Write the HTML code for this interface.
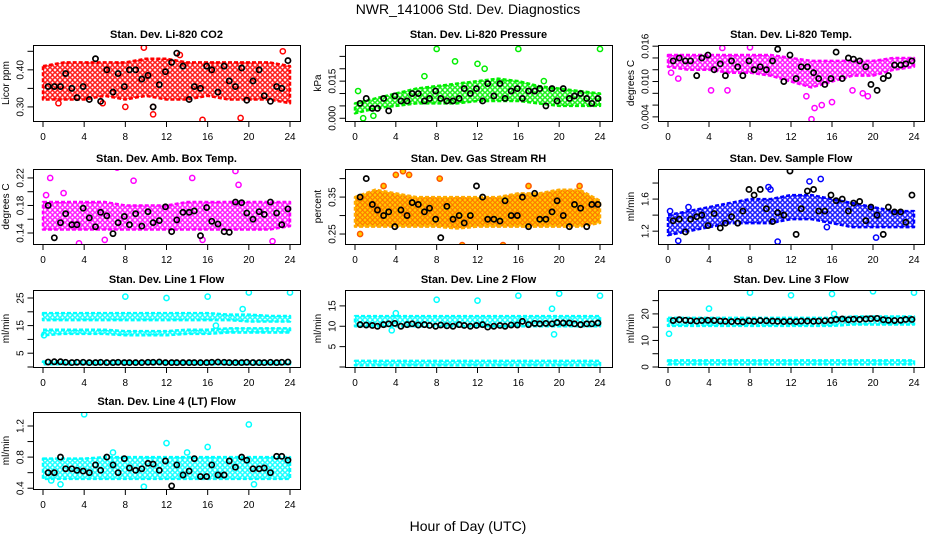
<!DOCTYPE html>
<html><head><meta charset="utf-8">
<style>
html,body{margin:0;padding:0;background:#fff;}
svg{display:block;font-family:"Liberation Sans",sans-serif;}
</style></head>
<body>
<svg id="chart" width="936" height="540" viewBox="0 0 936 540" xmlns="http://www.w3.org/2000/svg">
<defs id="defs"></defs>
<text x="468" y="14" font-size="14" text-anchor="middle">NWR_141006  Std. Dev. Diagnostics</text>
<text x="468" y="531" font-size="14" text-anchor="middle">Hour of Day (UTC)</text>
</svg>
<script>
// ---- data ----
const bandHours = [0,2,4,6,8,10,12,14,16,18,20,22,24];
const blkX = [0.5,1.1,1.7,2.2,2.8,3.3,3.9,4.5,5.1,5.6,6.2,6.8,7.3,7.9,8.4,9.0,9.6,10.2,10.7,11.3,11.9,12.5,13.0,13.6,14.2,14.7,15.3,15.9,16.4,17.0,17.6,18.1,18.7,19.3,19.8,20.4,21.0,21.5,22.1,22.7,23.2,23.8];

const co2Lo = [0.32,0.32,0.32,0.33,0.32,0.33,0.32,0.32,0.33,0.32,0.32,0.32,0.31];
const co2Hi = [0.41,0.42,0.42,0.42,0.42,0.43,0.43,0.42,0.42,0.42,0.42,0.42,0.41];
const co2OutX = [9.8,10.7,15.5,19.2,23.3,10.7,1.5,8,13.3,5.8];
const co2OutY = [0.46,0.28,0.265,0.27,0.45,0.30,0.31,0.30,0.44,0.31];
const co2Blk = [0.355,0.355,0.355,0.39,0.35,0.325,0.355,0.32,0.43,0.315,0.40,0.34,0.39,0.355,0.40,0.40,0.375,0.385,0.30,0.36,0.395,0.42,0.445,0.41,0.32,0.355,0.35,0.41,0.40,0.34,0.41,0.37,0.355,0.405,0.318,0.37,0.40,0.33,0.315,0.355,0.35,0.425];

const presLo = [0.002,0.004,0.005,0.006,0.006,0.006,0.007,0.007,0.007,0.006,0.005,0.005,0.005];
const presHi = [0.006,0.008,0.010,0.012,0.013,0.014,0.015,0.016,0.015,0.013,0.012,0.011,0.010];
const presOutX = [8,16,24,9.8,12,12.7,0.8,1.8,6.8,18.5,0.3];
const presOutY = [0.028,0.028,0.028,0.023,0.022,0.020,0.0,0.001,0.017,0.015,0.011];
const presBlk = [0.006,0.008,0.004,0.004,0.008,0.003,0.009,0.007,0.007,0.010,0.010,0.007,0.008,0.011,0.008,0.007,0.007,0.008,0.012,0.010,0.012,0.007,0.014,0.009,0.014,0.008,0.011,0.012,0.008,0.011,0.011,0.012,0.005,0.012,0.007,0.012,0.008,0.009,0.010,0.008,0.006,0.008];

const tempLo = [0.0125,0.012,0.012,0.0115,0.0115,0.011,0.010,0.009,0.010,0.011,0.011,0.012,0.0125];
const tempHi = [0.0145,0.0145,0.0145,0.0145,0.0145,0.0145,0.014,0.0135,0.0135,0.0135,0.0135,0.014,0.014];
const tempOutX = [0.3,1,4.2,5.8,8,5.3,13.5,14,14.3,15,16,19,19.5,18];
const tempOutY = [0.0115,0.0105,0.0085,0.0085,0.0158,0.0157,0.0075,0.0036,0.0055,0.006,0.0065,0.008,0.0075,0.0085];
const tempBlk = [0.0135,0.014,0.0135,0.0135,0.011,0.014,0.0145,0.012,0.013,0.011,0.0135,0.0125,0.011,0.0135,0.012,0.0125,0.012,0.0135,0.0155,0.010,0.0145,0.0105,0.0125,0.0125,0.0115,0.0105,0.0095,0.0105,0.015,0.0105,0.014,0.0138,0.0135,0.0125,0.0095,0.0085,0.0105,0.011,0.0128,0.0128,0.013,0.0135];

const ambLo = [0.145,0.145,0.145,0.145,0.145,0.145,0.145,0.145,0.145,0.145,0.145,0.145,0.15];
const ambHi = [0.185,0.185,0.185,0.185,0.18,0.18,0.18,0.185,0.185,0.185,0.185,0.185,0.185];
const ambOutX = [0.7,7.2,8.8,14.5,18.7,19,0.3,3.5,6,22.3,15.5,2];
const ambOutY = [0.22,0.235,0.216,0.22,0.23,0.21,0.195,0.125,0.13,0.128,0.13,0.198];
const ambBlk = [0.18,0.133,0.155,0.168,0.152,0.152,0.176,0.162,0.149,0.17,0.165,0.139,0.155,0.164,0.152,0.168,0.15,0.171,0.155,0.158,0.178,0.142,0.159,0.17,0.17,0.172,0.136,0.177,0.157,0.153,0.142,0.141,0.185,0.184,0.169,0.16,0.171,0.167,0.185,0.169,0.152,0.175];

const rhLo = [0.27,0.27,0.27,0.27,0.27,0.265,0.27,0.27,0.27,0.27,0.27,0.27,0.28];
const rhHi = [0.35,0.37,0.36,0.35,0.35,0.35,0.35,0.35,0.36,0.36,0.37,0.37,0.34];
const rhOutX = [4,4.7,5.3,8.3,10.5,14.5,0.5,17,22,2.8];
const rhOutY = [0.41,0.42,0.41,0.40,0.22,0.22,0.25,0.38,0.38,0.38];
const rhBlk = [0.35,0.40,0.33,0.315,0.30,0.31,0.27,0.315,0.30,0.335,0.33,0.31,0.32,0.29,0.24,0.325,0.29,0.30,0.28,0.30,0.38,0.35,0.29,0.29,0.285,0.34,0.30,0.30,0.35,0.27,0.36,0.29,0.29,0.31,0.34,0.30,0.27,0.33,0.32,0.27,0.33,0.33];

const flowLo = [1.15,1.2,1.25,1.3,1.3,1.3,1.35,1.35,1.3,1.25,1.25,1.25,1.25];
const flowHi = [1.4,1.45,1.5,1.55,1.6,1.6,1.65,1.65,1.6,1.55,1.5,1.45,1.45];
const flowOutX = [14.9,10,1,10.7,13.8,0.2,2,9.8,15.5,20.3];
const flowOutY = [1.85,1.72,1.08,1.07,1.82,1.45,1.5,1.75,1.25,1.12];
const flowBlk = [1.33,1.35,1.19,1.35,1.38,1.4,1.27,1.42,1.24,1.3,1.38,1.3,1.45,1.72,1.65,1.72,1.48,1.32,1.43,1.4,1.95,1.16,1.48,1.7,1.72,1.45,1.45,1.65,1.58,1.6,1.45,1.55,1.57,1.33,1.5,1.4,1.16,1.5,1.44,1.44,1.31,1.65];

const l1UpLo = [17,17,17,17,17,17,17,17,17,17,16.5,16.5,16.5];
const l1UpHi = [19.5,19.5,19.5,19.5,19.5,19.5,19.5,19.5,19.5,19,19,18.5,18.5];
const l1MidLo = [11.5,12,12,12,11.5,11.5,11.5,12,12,12.5,12.5,12.5,12.5];
const l1MidHi = [13.5,13.5,13.5,13.5,13,13,13,13.5,13.5,14,14,14,14];
const l1BotLo = [1,1,1,1,1,1,1,1,1,1,1,1,1];
const l1BotHi = [2,2,2,2,2,2,2,2,2,2,2,2,2];
const l1OutX = [8,12,16,20,24,19.4,0.1,16.8];
const l1OutY = [25.5,25,25.5,27,27,21,11.5,15];
const l1Blk = [1.8,1.9,1.9,1.7,1.6,1.7,1.7,1.6,1.6,1.7,1.6,1.6,1.7,1.6,1.6,1.6,1.6,1.7,1.7,1.8,1.6,1.6,1.6,1.6,1.6,1.6,1.6,1.6,1.7,1.8,1.7,1.6,1.6,1.6,1.7,1.6,1.6,1.6,1.7,1.6,1.7,1.8];

const l2UpLo = [10,10,10,10,10,10,10,10,10,10,10,10,10];
const l2UpHi = [12.5,12.5,12.5,12.5,12.5,12.5,12.5,12.5,12.5,12.5,12.5,12.5,12.5];
const l2BotLo = [0.4,0.4,0.4,0.4,0.4,0.4,0.4,0.4,0.4,0.4,0.4,0.4,0.4];
const l2BotHi = [1.5,1.5,1.5,1.5,1.5,1.5,1.5,1.5,1.5,1.5,1.5,1.5,1.5];
const l2OutX = [8,12,16,20,24,19.3,19.5,4,3.6];
const l2OutY = [16.5,16.3,17.5,18,17.5,14.3,8,13.2,9];
const l2Blk = [10.4,10.3,10.2,10.0,10.4,10.6,10.7,10.0,10.4,10.6,10.3,10.4,10.2,10.0,10.3,10.1,10.0,10.4,10.2,10.0,10.2,10.4,9.8,10.0,10.2,10.0,10.3,10.3,11.2,10.4,10.7,10.6,10.7,10.6,10.9,10.8,10.8,10.6,10.4,10.6,10.6,10.8];

const l3UpLo = [15.5,15.5,15.5,15.5,15.5,15.5,15.5,15.5,15.5,16,16,16,16];
const l3UpHi = [18.5,18.5,18.5,18.5,18.5,18.5,18.5,18.5,18.5,19,19,19,19];
const l3BotLo = [1,1,1,1,1,1,1,1,1,1,1,1,1];
const l3BotHi = [2.5,2.5,2.5,2.5,2.5,2.5,2.5,2.5,2.5,2.5,2.5,2.5,2.5];
const l3OutX = [8,12,16,20,24,4,0.1,16.2];
const l3OutY = [28,27,27.5,28.5,28,22,12.5,20];
const l3Blk = [17.5,17.8,17.6,17.4,17.3,17.5,17.6,17.5,17.3,17.2,17.1,17.2,17.0,17.4,17.2,17.5,17.4,17.3,17.2,17.1,17.2,17.1,17.3,17.3,17.2,17.3,17.4,17.6,17.9,18.1,17.8,18.0,17.9,18.1,18.2,18.3,17.8,17.6,17.5,17.6,17.9,17.9];

const l4Lo = [0.52,0.52,0.52,0.52,0.52,0.52,0.52,0.52,0.52,0.52,0.52,0.52,0.52];
const l4Hi = [0.78,0.78,0.78,0.8,0.8,0.8,0.8,0.8,0.8,0.8,0.8,0.8,0.8];
const l4OutX = [4,20,12,16,9.8,1.7,0.8,20.5,14,6.8];
const l4OutY = [1.35,1.22,0.98,0.93,0.42,0.45,0.5,0.45,0.86,0.86];
const l4Blk = [0.6,0.6,0.8,0.65,0.65,0.63,0.62,0.6,0.7,0.63,0.8,0.7,0.6,0.78,0.66,0.63,0.65,0.72,0.71,0.63,0.75,0.43,0.7,0.57,0.62,0.78,0.55,0.55,0.7,0.57,0.57,0.75,0.67,0.8,0.76,0.65,0.65,0.66,0.6,0.81,0.81,0.76];

const xTicks = [0,4,8,12,16,20,24];

// ---- layout ----
const COLS = [{l:33,r:300,x0:43,x24:290},{l:345,r:612,x0:355,x24:600},{l:658,r:924,x0:668,x24:914}];
const ROWS = [{t:45,b:121},{t:169,b:244},{t:290,b:367},{t:412,b:489}];

const panels = [
 {name:'co2',title:'Stan. Dev. Li-820 CO2',ylab:'Licor ppm',col:0,row:0,color:'#ff0000',ymin:0.262,ymax:0.467,ticks:[0.30,0.35,0.40,0.45],labs:['0.30','','0.40',''],bands:[[co2Lo,co2Hi]],ox:co2OutX,oy:co2OutY,blk:co2Blk},
 {name:'pressure',title:'Stan. Dev. Li-820 Pressure',ylab:'kPa',col:1,row:0,color:'#00ee00',ymin:-0.0011,ymax:0.0296,ticks:[0,0.005,0.010,0.015,0.020,0.025],labs:['0.000','','','0.015','',''],bands:[[presLo,presHi]],ox:presOutX,oy:presOutY,blk:presBlk},
 {name:'temp',title:'Stan. Dev. Li-820 Temp.',ylab:'degrees C',col:2,row:0,color:'#ff00ff',ymin:0.0033,ymax:0.0162,ticks:[0.004,0.006,0.008,0.010,0.012,0.014,0.016],labs:['0.004','','','0.010','','','0.016'],bands:[[tempLo,tempHi]],ox:tempOutX,oy:tempOutY,blk:tempBlk},
 {name:'amb-box',title:'Stan. Dev. Amb. Box Temp.',ylab:'degrees C',col:0,row:1,color:'#ff00ff',ymin:0.124,ymax:0.233,ticks:[0.14,0.16,0.18,0.20,0.22],labs:['0.14','','0.18','','0.22'],bands:[[ambLo,ambHi]],ox:ambOutX,oy:ambOutY,blk:ambBlk},
 {name:'rh',title:'Stan. Dev. Gas Stream RH',ylab:'percent',col:1,row:1,color:'#ffcc00',ring:'#ff5500',edge:'#ffaa00',ymin:0.223,ymax:0.426,ticks:[0.25,0.30,0.35,0.40],labs:['0.25','','0.35',''],bands:[[rhLo,rhHi]],ox:rhOutX,oy:rhOutY,blk:rhBlk},
 {name:'sample-flow',title:'Stan. Dev. Sample Flow',ylab:'ml/min',col:2,row:1,color:'#0000ff',ymin:1.04,ymax:1.975,ticks:[1.2,1.4,1.6,1.8],labs:['1.2','','1.6',''],bands:[[flowLo,flowHi]],ox:flowOutX,oy:flowOutY,blk:flowBlk},
 {name:'line1-flow',title:'Stan. Dev. Line 1 Flow',ylab:'ml/min',col:0,row:2,color:'#00ffff',ymin:0,ymax:27.9,ticks:[0,5,10,15,20,25],labs:['','5','','15','','25'],bands:[[l1UpLo,l1UpHi],[l1MidLo,l1MidHi],[l1BotLo,l1BotHi]],ox:l1OutX,oy:l1OutY,blk:l1Blk},
 {name:'line2-flow',title:'Stan. Dev. Line 2 Flow',ylab:'ml/min',col:1,row:2,color:'#00ffff',ymin:0,ymax:18.9,ticks:[0,5,10,15],labs:['','5','10','15'],bands:[[l2UpLo,l2UpHi],[l2BotLo,l2BotHi]],ox:l2OutX,oy:l2OutY,blk:l2Blk},
 {name:'line3-flow',title:'Stan. Dev. Line 3 Flow',ylab:'ml/min',col:2,row:2,color:'#00ffff',ymin:0,ymax:29,ticks:[0,5,10,15,20,25],labs:['0','','10','','20',''],bands:[[l3UpLo,l3UpHi],[l3BotLo,l3BotHi]],ox:l3OutX,oy:l3OutY,blk:l3Blk},
 {name:'line4-flow',title:'Stan. Dev. Line 4 (LT) Flow',ylab:'ml/min',col:0,row:3,color:'#00ffff',ymin:0.39,ymax:1.38,ticks:[0.4,0.6,0.8,1.0,1.2],labs:['0.4','','0.8','','1.2'],bands:[[l4Lo,l4Hi]],ox:l4OutX,oy:l4OutY,blk:l4Blk}
];

const NS='http://www.w3.org/2000/svg';
const svg=document.getElementById('chart');
const defs=document.getElementById('defs');
function mk(tag,attrs,parent){const e=document.createElementNS(NS,tag);for(const k in attrs)e.setAttribute(k,attrs[k]);(parent||svg).appendChild(e);return e;}

panels.forEach(p=>{
  const C=COLS[p.col],R=ROWS[p.row];
  const sx=h=>C.x0+(h/24)*(C.x24-C.x0);
  const sy=v=>R.b-(v-p.ymin)/(p.ymax-p.ymin)*(R.b-R.t);
  const g=mk('g',{});
  
  
  const edge=p.edge||p.color;
  const pat=mk('pattern',{id:'pat-'+p.name,width:5,height:5,patternUnits:'userSpaceOnUse'},defs);
  mk('rect',{width:5,height:5,fill:p.ring?p.color:'#fff'},pat);
  mk('circle',{cx:2.5,cy:2.5,r:1.8,fill:'none',stroke:p.ring||p.color,'stroke-width':p.ring?0.9:1.3},pat);
  const clip=mk('clipPath',{id:'clip-'+p.name},defs);
  mk('rect',{x:C.l,y:R.t,width:C.r-C.l,height:R.b-R.t},clip);
  const plot=mk('g',{'clip-path':'url(#clip-'+p.name+')'},g);
  p.bands.forEach(b=>{
    const lo=b[0],hi=b[1];
    let pts=bandHours.map((h,i)=>sx(h)+','+sy(hi[i]));
    pts=pts.concat(bandHours.slice().reverse().map((h,j)=>{const i=bandHours.length-1-j;return sx(h)+','+sy(lo[i]);}));
    const poly=mk('polygon',{points:pts.join(' '),fill:'url(#pat-'+p.name+')',stroke:edge,'stroke-width':2.5,'stroke-dasharray':'4 2','stroke-linejoin':'round'},plot);
    
    
  });
  p.ox.forEach((h,i)=>{
    const c=mk('circle',{cx:sx(h),cy:sy(p.oy[i]),r:2.6,fill:p.ring?p.color:'none',stroke:p.ring||p.color,'stroke-width':1.5},plot);
    
    
  });
  p.blk.forEach((v,i)=>{
    const c=mk('circle',{cx:sx(blkX[i]),cy:sy(v),r:2.6,fill:'none',stroke:'#000','stroke-width':1.7},plot);
    
    
  });
  const box=mk('rect',{x:C.l+0.5,y:R.t+0.5,width:C.r-C.l,height:R.b-R.t,fill:'none',stroke:'#000','stroke-width':1},g);
  
  
  const t=mk('text',{x:(C.l+C.r)/2,y:R.t-7,'font-size':11,'font-weight':'bold','text-anchor':'middle'},g);
  t.textContent=p.title;
  
  
  mk('line',{x1:sx(0),x2:sx(24),y1:R.b+0.5,y2:R.b+0.5,stroke:'#000'},g);
  xTicks.forEach(h=>{
    mk('line',{x1:sx(h),x2:sx(h),y1:R.b,y2:R.b+6,stroke:'#000'},g);
    const tl=mk('text',{x:sx(h),y:R.b+19,'font-size':10,'text-anchor':'middle'},g);
    tl.textContent=h;
    
    
  });
  const yl=C.l+0.5;
  mk('line',{x1:yl,x2:yl,y1:sy(p.ticks[0]),y2:sy(p.ticks[p.ticks.length-1]),stroke:'#000'},g);
  p.ticks.forEach((v,i)=>{
    const y=sy(v);
    mk('line',{x1:yl-6,x2:yl,y1:y,y2:y,stroke:'#000'},g);
    if(p.labs[i]){
      const tl=mk('text',{x:yl-10,y:y,'font-size':10,'text-anchor':'middle',transform:'rotate(-90 '+(yl-10)+' '+y+')'},g);
      tl.textContent=p.labs[i];
      
      
    }
  });
  const ym=(R.t+R.b)/2, yx=C.l-24;
  const ylab=mk('text',{x:yx,y:ym,'font-size':10,'text-anchor':'middle',transform:'rotate(-90 '+yx+' '+ym+')'},g);
  ylab.textContent=p.ylab;
  
  
});
</script>
</body></html>
